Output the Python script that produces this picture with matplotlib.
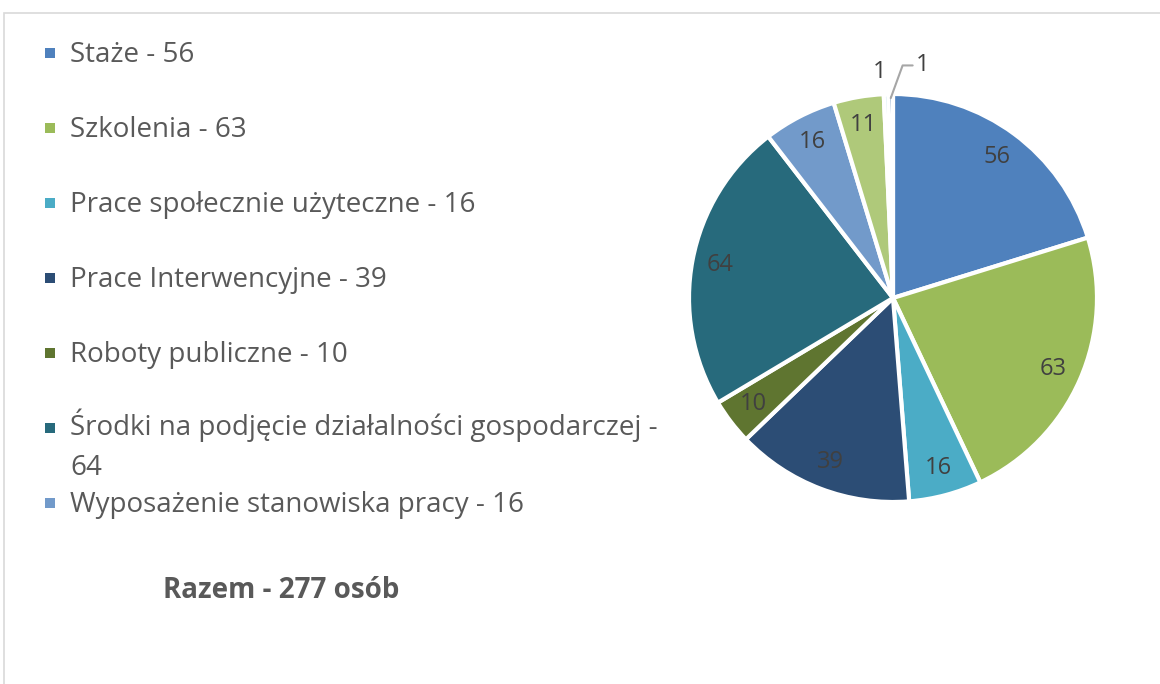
import numpy as np
import matplotlib.pyplot as plt
from matplotlib.patches import Rectangle

plt.rcParams['font.family'] = ['Open Sans', 'DejaVu Sans']

# data
categories = ['Staże', 'Szkolenia', 'Prace społecznie użyteczne', 'Prace Interwencyjne',
              'Roboty publiczne', 'Środki na podjęcie działalności gospodarczej',
              'Wyposażenie stanowiska pracy', '', '', '']
values = [56, 63, 16, 39, 10, 64, 16, 11, 1, 1]
colors = ['#4F81BD', '#9BBB59', '#4BACC6', '#2C4D75', '#5F7530',
          '#276A7C', '#729ACA', '#AFC97A', '#6FBDD1', '#3F6FA8']
legend_labels = ['Staże - 56', 'Szkolenia - 63', 'Prace społecznie użyteczne - 16',
                 'Prace Interwencyjne - 39', 'Roboty publiczne - 10',
                 'Środki na podjęcie działalności gospodarczej -\n64',
                 'Wyposażenie stanowiska pracy - 16']
total_text = 'Razem - 277 osób'

W, H = 1160, 684
fig = plt.figure(figsize=(W / 100, H / 100), dpi=100)

# chart frame
fig.patches.append(Rectangle((4 / W, -0.1), 1.2, (H - 13) / H + 0.1, transform=fig.transFigure,
                             fill=False, edgecolor='#D9D9D9', linewidth=1.2))

# pie
cx, cy, R = 893, 298, 204
side = R * 2.5
ax = fig.add_axes([(cx - side / 2) / W, (H - cy - side / 2) / H, side / W, side / H])
wedges, texts = ax.pie(values, colors=colors, startangle=90, counterclock=False, radius=1,
                       labels=[str(v) if v > 1 else '' for v in values], labeldistance=0.86,
                       wedgeprops=dict(edgecolor='white', linewidth=3),
                       textprops=dict(color='#404040', fontsize=17, ha='center', va='center'))
for t in texts:
    t.set_ha('center')
ax.set_xlim(-1.25, 1.25)
ax.set_ylim(-1.25, 1.25)

# labels of the two tiny slices
w10 = wedges[9]
ax.text(-0.03, 1.11, str(values[8]), ha='right', va='center', color='#404040', fontsize=17)
a10 = np.deg2rad((w10.theta1 + w10.theta2) / 2)
ax.annotate(str(values[9]), xy=(np.cos(a10) * 0.98, np.sin(a10) * 0.98), xytext=(0.11, 1.14),
            ha='left', va='center', color='#404040', fontsize=17,
            arrowprops=dict(arrowstyle='-', color='#A6A6A6', lw=1.5,
                            connectionstyle='angle,angleA=0,angleB=70,rad=0', shrinkA=0, shrinkB=0))

# legend
y0, step = 53, 75
for i, lab in enumerate(legend_labels):
    y = y0 + i * step
    fig.patches.append(Rectangle((45 / W, (H - y - 5) / H), 10 / W, 10 / H,
                                 transform=fig.transFigure, facecolor=colors[i], edgecolor='none'))
    if '\n' in lab:
        fig.text(70 / W, (H - y + 19) / H, lab, ha='left', va='top', fontsize=20,
                 color='#595959', linespacing=1.55)
    else:
        fig.text(70 / W, (H - y - 2) / H, lab, ha='left', va='center', fontsize=20, color='#595959')

fig.text(163 / W, (H - 590) / H, total_text, ha='left', va='center', fontsize=20,
         fontweight='bold', color='#595959')

fig.savefig('out.png', dpi=100)
